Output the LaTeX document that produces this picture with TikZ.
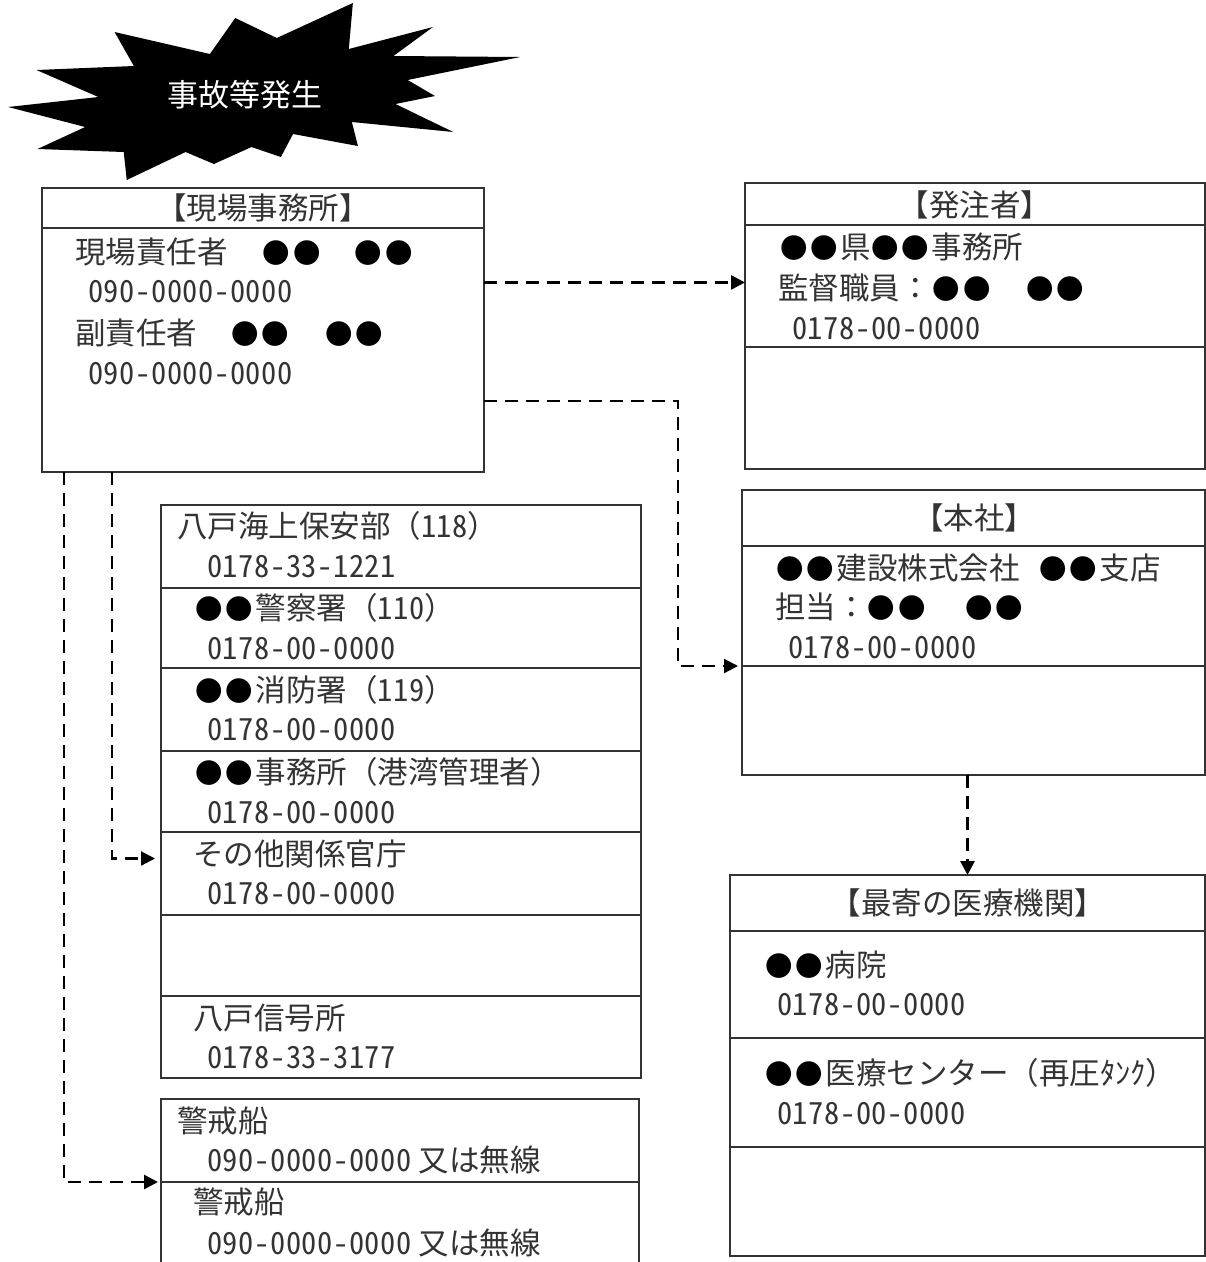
\documentclass[tikz,border=0pt]{standalone}
\usepackage{fontspec}
\setmainfont{Noto Sans CJK JP}
\newfontfamily\numfont[RawFeature=+hwid, LetterSpace=1.7]{Noto Sans CJK JP}
\newfontfamily\markfont[Scale=0.9, LetterSpace=11]{Noto Sans CJK JP}
\usetikzlibrary{positioning, arrows.meta}

\tikzset{
    cell/.style={draw=black!80, line width=1.3pt, rectangle, inner sep=0pt, outer sep=0pt},
    sitecell/.style={cell, minimum width=442pt},
    clientcell/.style={cell, minimum width=460pt},
    hqcell/.style={cell, minimum width=463pt},
    medcell/.style={cell, minimum width=475pt},
    listcell/.style={cell, minimum width=480pt},
    shipcell/.style={cell, minimum width=478pt},
    txt/.style={anchor=west, inner sep=0pt, text height=23pt, text depth=0pt, text=black!80, font=\fontsize{30.5}{36}\selectfont},
    title/.style={txt, anchor=center},
    dashthin/.style={draw=black, line width=2.2pt, dash pattern=on 13pt off 8pt, -{Triangle[length=14pt,width=14pt]}},
    dashthick/.style={dashthin, line width=2.8pt},
}
\newcommand{\telno}[1]{{\numfont #1}}
\newcommand{\mk}[1]{{\color{black}\markfont #1}\hspace{2.5pt}}

\begin{document}
\begin{tikzpicture}[x=1pt, y=-1pt, node distance=0pt]
        \useasboundingbox (0,0) rectangle (1206,1262);

        % Burst
        \fill[black, xscale=1.014] (348,3) -- (344,49) -- (427,27) -- (388,56) -- (513,57) -- (402,80) -- (429,96) -- (390,104)
            -- (447,132) -- (347,122) -- (353,146) -- (289,134) -- (277,157) -- (248,147) -- (211,164) -- (183,152)
            -- (125,180) -- (122,152) -- (37,149) -- (84,127) -- (8,107) -- (97,97) -- (36,70) -- (132,66)
            -- (113,32) -- (207,54) -- (232,18) -- (273,38) -- cycle;
        \node (burst) [title, text=white, font=\fontsize{31}{36}\selectfont] at (245,95) {事故等発生};

        % Site office
        \node (sitehead) [sitecell, minimum height=40pt, anchor=north west] at (42,188) {};
        \node (sitebody) [sitecell, minimum height=244pt, below=of sitehead] {};

        % Client
        \node (clienthead) [clientcell, minimum height=42pt, anchor=north west] at (745,183) {};
        \node (clientmid) [clientcell, minimum height=122pt, below=of clienthead] {};
        \node (clientbot) [clientcell, minimum height=122pt, below=of clientmid] {};

        % Head office
        \node (hqhead) [hqcell, minimum height=56pt, anchor=north west] at (742,490) {};
        \node (hqmid) [hqcell, minimum height=120pt, below=of hqhead] {};
        \node (hqbot) [hqcell, minimum height=109pt, below=of hqmid] {};

        % Medical
        \node (medhead) [medcell, minimum height=56pt, anchor=north west] at (730,875) {};
        \node (medone) [medcell, minimum height=107pt, below=of medhead] {};
        \node (medtwo) [medcell, minimum height=109pt, below=of medone] {};
        \node (medbot) [medcell, minimum height=109pt, below=of medtwo] {};

        % Authorities
        \node (coast) [listcell, minimum height=83pt, anchor=north west] at (161,505) {};
        \node (police) [listcell, minimum height=80pt, below=of coast] {};
        \node (fire) [listcell, minimum height=83pt, below=of police] {};
        \node (port) [listcell, minimum height=81pt, below=of fire] {};
        \node (other) [listcell, minimum height=83pt, below=of port] {};
        \node (blank) [listcell, minimum height=81pt, below=of other] {};
        \node (signal) [listcell, minimum height=82pt, below=of blank] {};

        % Guard ships
        \node (shipa) [shipcell, minimum height=83pt, anchor=north west] at (161,1099) {};
        \node (shipb) [shipcell, minimum height=110pt, below=of shipa] {};

        % Texts
        \node (sitetitle) [title] at (263,208) {【現場事務所】};
        \node (sitea) [txt] at (75,252) {現場責任者\hspace{35pt}\mk{●●}\hspace{31.5pt}\mk{●●}};
        \node (sitetela) [txt] at (88,291) {\telno{090-0000-0000}};
        \node (siteb) [txt] at (75,333) {副責任者\hspace{34pt}\mk{●●}\hspace{33.5pt}\mk{●●}};
        \node (sitetelb) [txt] at (88,373) {\telno{090-0000-0000}};

        \node (clienttitle) [title] at (975,205) {【発注者】};
        \node (clienta) [txt] at (780,247) {\mk{●●}県\mk{●●}事務所};
        \node (clientb) [txt] at (778,288) {監督職員：\hspace{2pt}\mk{●●}\hspace{33pt}\mk{●●}};
        \node (clienttel) [txt] at (792,328) {\telno{0178-00-0000}};

        \node (hqtitle) [title] at (974,518) {【本社】};
        \node (hqa) [txt] at (776,568) {\mk{●●}建設株式会社\hspace{19.5pt}\mk{●●}支店};
        \node (hqb) [txt] at (775,607) {担当：\hspace{1pt}\mk{●●}\hspace{37pt}\mk{●●}};
        \node (hqtel) [txt] at (788,647) {\telno{0178-00-0000}};

        \node (medtitle) [title] at (968,903) {【最寄の医療機関】};
        \node (meda) [txt] at (765,965) {\mk{●●}病院};
        \node (medtela) [txt] at (777,1004) {\telno{0178-00-0000}};
        \node (medb) [txt] at (765,1073) {\mk{●●}医療センター（再圧ﾀﾝｸ）};
        \node (medtelb) [txt] at (777,1113) {\telno{0178-00-0000}};

        \node (coasta) [txt] at (177,526) {八戸海上保安部（\telno{118}）};
        \node (coasttel) [txt] at (207,566) {\telno{0178-33-1221}};
        \node (policea) [txt] at (195,608) {\mk{●●}警察署（\telno{110}）};
        \node (policetel) [txt] at (207,648) {\telno{0178-00-0000}};
        \node (firea) [txt] at (195,690) {\mk{●●}消防署（\telno{119}）};
        \node (firetel) [txt] at (207,729) {\telno{0178-00-0000}};
        \node (porta) [txt] at (195,772) {\mk{●●}事務所（港湾管理者）};
        \node (porttel) [txt] at (207,812) {\telno{0178-00-0000}};
        \node (othera) [txt] at (193,854) {その他関係官庁};
        \node (othertel) [txt] at (207,893) {\telno{0178-00-0000}};
        \node (signala) [txt] at (193,1018) {八戸信号所};
        \node (signaltel) [txt] at (207,1057) {\telno{0178-33-3177}};

        \node (shipaname) [txt] at (177,1121) {警戒船};
        \node (shipatel) [txt] at (207,1160) {\telno{090-0000-0000} 又は無線};
        \node (shipbname) [txt] at (193,1202) {警戒船};
        \node (shipbtel) [txt] at (207,1243) {\telno{090-0000-0000} 又は無線};

        % Arrows
        \draw[dashthick] (sitebody.17.8) -- (sitebody.17.8 -| clientmid.west);
        \draw[dashthin, shorten >=4pt] (sitebody.-13) -- ++(194,0) |- (hqmid.south west);
        \draw[dashthick, shorten >=3pt] ([xshift=22pt]sitebody.south west) |- (shipa.south west);
        \draw[dashthin, shorten >=6pt] ([xshift=70pt]sitebody.south west) |- ([yshift=15pt]other.west);
        \draw[dashthick] (medhead.north |- hqbot.south) -- (medhead.north);
\end{tikzpicture}
\end{document}
